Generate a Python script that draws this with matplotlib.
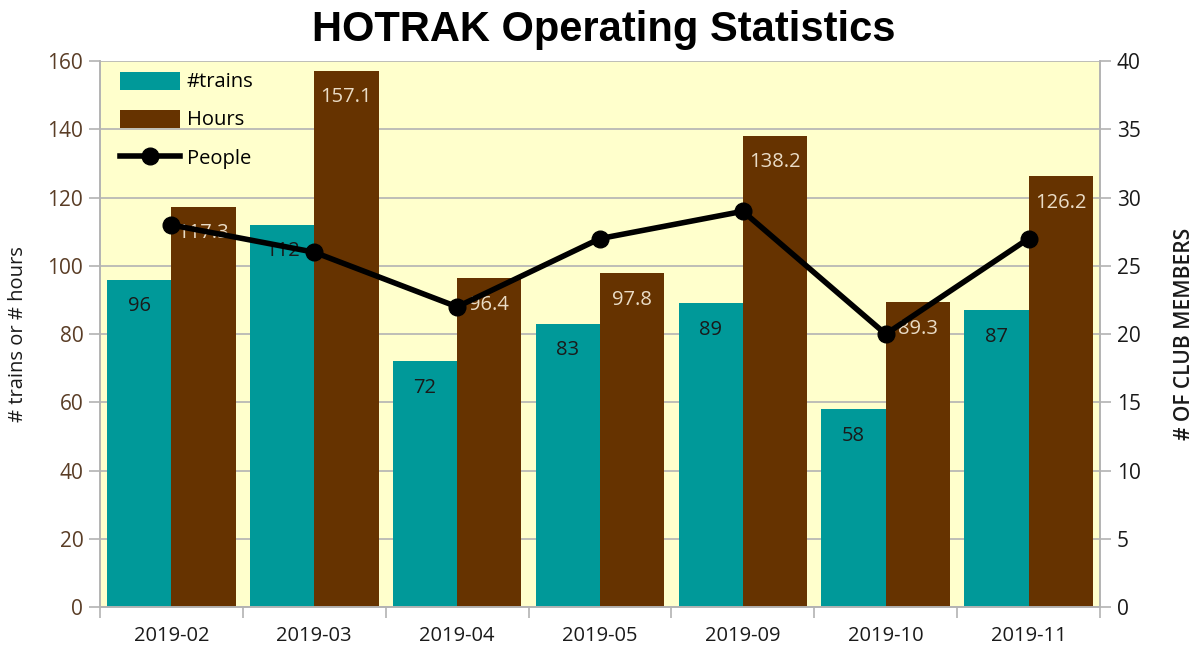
import numpy as np
import matplotlib.pyplot as plt

months = ["2019-02", "2019-03", "2019-04", "2019-05", "2019-09", "2019-10", "2019-11"]
trains = [96, 112, 72, 83, 89, 58, 87]
hours = [117.3, 157.1, 96.4, 97.8, 138.2, 89.3, 126.2]
people = [28, 26, 22, 27, 29, 20, 27]

teal = "#009999"
brown = "#663300"
font = "Open Sans"

fig = plt.figure(figsize=(12, 6.58), dpi=100)
ax = fig.add_axes([0.0833, 0.0775, 0.8334, 0.8295])
ax.set_facecolor("#ffffcc")

x = np.arange(len(months))
w = 0.45
b1 = ax.bar(x - w / 2, trains, w, color=teal, label="#trains", zorder=2)
b2 = ax.bar(x + w / 2, hours, w, color=brown, label="Hours", zorder=2)

for rect, v in zip(b1, trains):
    ax.annotate(str(v), (rect.get_x() + rect.get_width() / 2, v), xytext=(0, -19),
                textcoords="offset points", ha="center", va="center",
                fontsize=14.5, color="#1a1a1a", family=font, zorder=5)
for rect, v in zip(b2, hours):
    ax.annotate(f"{v:.1f}", (rect.get_x() + rect.get_width() / 2, v), xytext=(0, -19),
                textcoords="offset points", ha="center", va="center",
                fontsize=14.5, color="#eadcc6", family=font, zorder=5)

ax.set_xlim(-0.5, len(months) - 0.5)
ax.set_ylim(0, 160)
ax.set_yticks(range(0, 161, 20))
ax.yaxis.grid(True, color="#b3b3b3", linewidth=1.2, zorder=0)
ax.set_axisbelow(True)

# category boundaries as major ticks, labels on minor ticks at centers
ax.set_xticks(np.arange(-0.5, len(months), 1))
ax.set_xticklabels([])
ax.set_xticks(x, minor=True)
ax.set_xticklabels(months, minor=True, fontsize=14.5, family=font, color="#1a1a1a")
ax.tick_params(axis="x", which="minor", length=0, pad=14)
ax.tick_params(axis="x", which="major", length=8, color="#b3b3b3", width=1.2)
ax.tick_params(axis="y", length=8, color="#b3b3b3", width=1.2, labelsize=15,
               labelcolor="#5a3d26", pad=4)
for lab in ax.get_yticklabels():
    lab.set_family(font)
ax.set_ylabel("# trains or # hours", fontsize=14.5, family=font, color="#1a1a1a", labelpad=14)

for s in ax.spines.values():
    s.set_color("#b3b3b3")
    s.set_linewidth(1.2)
ax.spines["top"].set_visible(False)

ax2 = ax.twinx()
ln, = ax2.plot(x, people, color="black", linewidth=4, marker="o", markersize=12,
               label="People", zorder=4)
ax2.set_ylim(0, 40)
ax2.set_yticks(range(0, 41, 5))
ax2.tick_params(axis="y", length=8, color="#b3b3b3", width=1.2, labelsize=15,
                labelcolor="#1a1a1a", pad=4)
for lab in ax2.get_yticklabels():
    lab.set_family(font)
ax2.set_ylabel("# OF CLUB MEMBERS", fontsize=15, family=font, fontweight="semibold",
               color="#1a1a1a", labelpad=24)
for s in ax2.spines.values():
    s.set_color("#b3b3b3")
    s.set_linewidth(1.2)
ax2.spines["top"].set_visible(False)

leg = ax.legend([b1, b2, ln], ["#trains", "Hours", "People"], loc="upper left",
                frameon=False, handlelength=3.0, handleheight=1.0,
                labelspacing=0.85, borderaxespad=0.25, handletextpad=0.3,
                bbox_to_anchor=(0.007, 1.005),
                prop={"family": font, "size": 14.5})

fig.suptitle("HOTRAK Operating Statistics", fontsize=30, fontweight="bold",
             family="Liberation Sans", y=0.985, x=0.503)

fig.savefig("out.png", dpi=100)
